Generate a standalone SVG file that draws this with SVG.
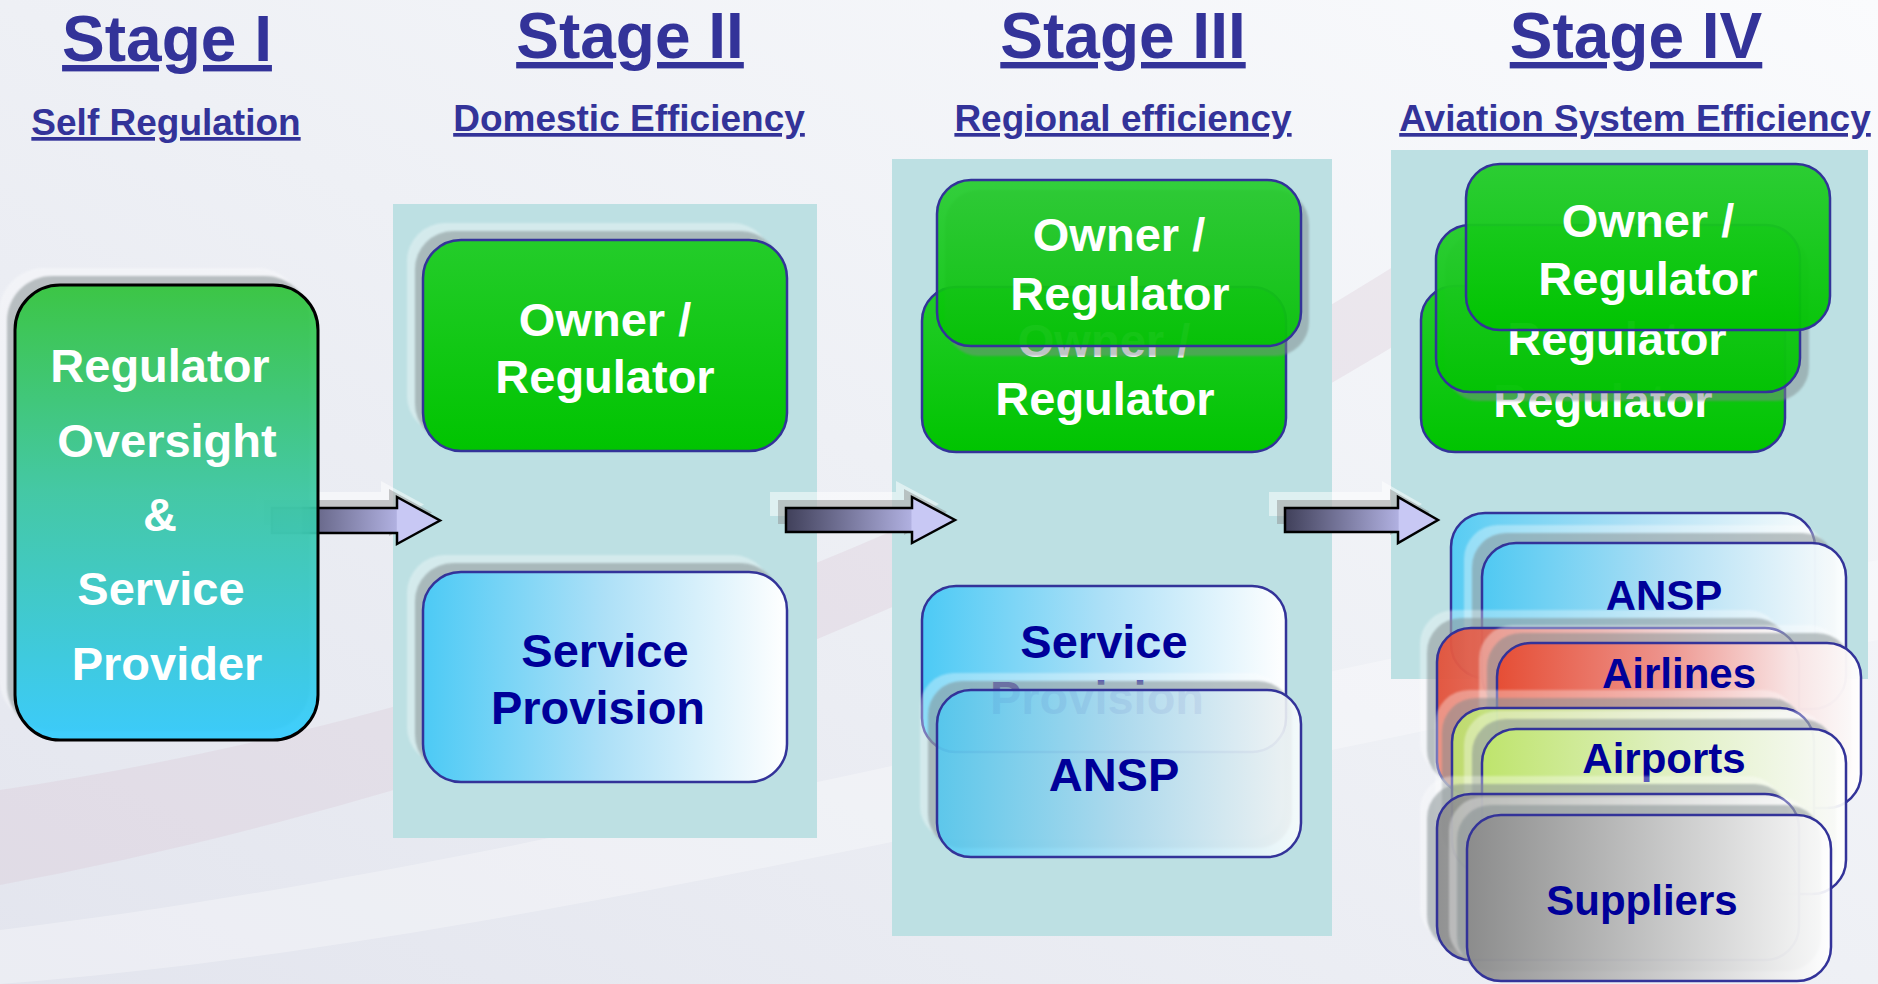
<svg xmlns="http://www.w3.org/2000/svg" xmlns:xlink="http://www.w3.org/1999/xlink" width="1878" height="984" viewBox="0 0 1878 984">
<defs>
  <linearGradient id="bg" x1="0" y1="1" x2="1" y2="0">
    <stop offset="0" stop-color="#e3e5ee"/>
    <stop offset="0.5" stop-color="#eef0f5"/>
    <stop offset="1" stop-color="#fafbfd"/>
  </linearGradient>
  <linearGradient id="gStage1" x1="0" y1="0" x2="0" y2="1">
    <stop offset="0" stop-color="#33c63c"/>
    <stop offset="0.45" stop-color="#3cc9a2"/>
    <stop offset="1" stop-color="#33ccff"/>
  </linearGradient>
  <linearGradient id="gGreen" x1="0" y1="0" x2="0" y2="1">
    <stop offset="0" stop-color="#24cc2a"/>
    <stop offset="1" stop-color="#00c400"/>
  </linearGradient>
  <linearGradient id="gBlue" x1="0" y1="0" x2="1" y2="0">
    <stop offset="0" stop-color="#4ccaf5"/>
    <stop offset="0.5" stop-color="#ade0f7"/>
    <stop offset="1" stop-color="#ffffff"/>
  </linearGradient>
  <linearGradient id="gRed" x1="0" y1="0" x2="1" y2="0">
    <stop offset="0" stop-color="#e84a30"/>
    <stop offset="0.45" stop-color="#f09088"/>
    <stop offset="0.8" stop-color="#fbe4e4"/>
    <stop offset="1" stop-color="#ffffff"/>
  </linearGradient>
  <linearGradient id="gLime" x1="0" y1="0" x2="1" y2="0">
    <stop offset="0" stop-color="#c0e868"/>
    <stop offset="0.5" stop-color="#e2f4c0"/>
    <stop offset="1" stop-color="#ffffff"/>
  </linearGradient>
  <linearGradient id="gGray" x1="0" y1="0" x2="1" y2="0">
    <stop offset="0" stop-color="#8a8a8a"/>
    <stop offset="0.5" stop-color="#c4c4c4"/>
    <stop offset="1" stop-color="#ffffff"/>
  </linearGradient>
  <linearGradient id="gArrow" x1="0" y1="0" x2="1" y2="0">
    <stop offset="0" stop-color="#40405a"/>
    <stop offset="0.74" stop-color="#b0b0e0"/>
    <stop offset="0.745" stop-color="#c8c8f4"/>
    <stop offset="1" stop-color="#c8c8f4"/>
  </linearGradient>
  <filter id="sb" x="-10%" y="-10%" width="120%" height="120%">
    <feGaussianBlur stdDeviation="0.8"/>
  </filter>
  <path id="arrow1" d="M272,508 H397 V497 L440,520.5 L397,544 V533 H272 Z"/>
  <path id="arrow2" d="M786,508 H912 V497 L955,520 L912,543 V532 H786 Z"/>
  <path id="arrow3" d="M1285,508 H1398 V497 L1438,520 L1398,543 V532 H1285 Z"/>
</defs>
<style>
  .title{font-family:"Liberation Sans",Arial,Helvetica,sans-serif;font-weight:bold;fill:#333399;text-decoration:underline;text-anchor:middle}
  .t1{font-size:64px}
  .t2{font-size:37px}
  .lbl{font-family:"Liberation Sans",Arial,Helvetica,sans-serif;font-weight:bold;font-size:47px;text-anchor:middle}
  .sm{font-size:42px}
  .w{fill:#ffffff}
  .n{fill:#000099}
  .panel{fill:#bde0e3}
  .bx{stroke:#333399;stroke-width:2.5}
  .green{fill:url(#gGreen)}
  .blue{fill:url(#gBlue)}
  .red{fill:url(#gRed)}
  .lime{fill:url(#gLime)}
  .gray{fill:url(#gGray)}
  .sh{fill:#7f8a8c;opacity:0.5;filter:url(#sb)}
  .halo{fill:#ffffff;opacity:0.35;filter:url(#sb)}
  .arrow{fill:url(#gArrow);stroke:#000000;stroke-width:2.5;stroke-linejoin:miter}
  .ash{fill:#8a8a8a;opacity:0.45}
  .ahalo{fill:#ffffff;opacity:0.5}
</style>

<!-- background -->
<rect x="0" y="0" width="1878" height="984" fill="url(#bg)"/>
<path d="M0,790 C400,730 900,580 1420,250 L1420,330 C900,650 400,810 0,885 Z" fill="#d8c2cf" opacity="0.28"/>
<path d="M0,930 C500,870 1000,730 1878,560 L1878,640 C1000,810 500,945 0,984 Z" fill="#ffffff" opacity="0.3"/>

<!-- titles -->
<g id="titles">
  <text class="title t1" x="167" y="61">Stage I</text>
  <text class="title t2" x="166" y="135">Self Regulation</text>
  <text class="title t1" x="630" y="58">Stage II</text>
  <text class="title t2" x="629" y="131">Domestic Efficiency</text>
  <text class="title t1" x="1123" y="58">Stage III</text>
  <text class="title t2" x="1123" y="131">Regional efficiency</text>
  <text class="title t1" x="1636" y="58">Stage IV</text>
  <text class="title t2" x="1635" y="131">Aviation System Efficiency</text>
</g>

<!-- stage panels -->
<g id="panel-stage2"><rect class="panel" x="393" y="204" width="424" height="634"/></g>
<g id="panel-stage3"><rect class="panel" x="892" y="159" width="440" height="777"/></g>
<g id="panel-stage4"><rect class="panel" x="1391" y="150" width="477" height="529"/></g>

<!-- connectors -->
<g id="connectors">
  <use xlink:href="#arrow1" class="ahalo" transform="translate(-16,-16)"/>
  <use xlink:href="#arrow1" class="ash" transform="translate(-8,-8)"/>
  <use xlink:href="#arrow1" class="arrow"/>
  <use xlink:href="#arrow2" class="ahalo" transform="translate(-16,-16)"/>
  <use xlink:href="#arrow2" class="ash" transform="translate(-8,-8)"/>
  <use xlink:href="#arrow2" class="arrow"/>
  <use xlink:href="#arrow3" class="ahalo" transform="translate(-16,-16)"/>
  <use xlink:href="#arrow3" class="ash" transform="translate(-8,-8)"/>
  <use xlink:href="#arrow3" class="arrow"/>
</g>

<!-- Stage I -->
<g id="stage1-box">
  <rect class="halo" x="-1" y="268" width="303" height="455" rx="45"/>
  <rect class="sh" x="7" y="276" width="303" height="455" rx="45"/>
  <rect x="15" y="285" width="303" height="455" rx="45" fill="url(#gStage1)" fill-opacity="0.93" stroke="#000000" stroke-width="3"/>
  <text class="lbl w" x="160" y="382">Regulator</text>
  <text class="lbl w" x="167" y="457">Oversight</text>
  <text class="lbl w" x="160" y="531">&amp;</text>
  <text class="lbl w" x="161" y="605">Service</text>
  <text class="lbl w" x="167" y="680">Provider</text>
</g>

<!-- Stage II -->
<g id="stage2-owner">
  <rect class="halo" x="407" y="223" width="364" height="211" rx="38"/>
  <rect class="sh" x="415" y="231" width="364" height="211" rx="38"/>
  <rect class="bx green" x="423" y="240" width="364" height="211" rx="38"/>
  <text class="lbl w" x="605" y="336">Owner /</text>
  <text class="lbl w" x="605" y="393">Regulator</text>
</g>
<g id="stage2-service">
  <rect class="halo" x="407" y="555" width="364" height="210" rx="38"/>
  <rect class="sh" x="415" y="563" width="364" height="210" rx="38"/>
  <rect class="bx blue" x="423" y="572" width="364" height="210" rx="38"/>
  <text class="lbl n" x="605" y="667">Service</text>
  <text class="lbl n" x="598" y="724">Provision</text>
</g>

<!-- Stage III -->
<g id="stage3-owner-back">
  <rect class="bx green" x="922" y="287" width="364" height="165" rx="34"/>
  <text class="lbl w" x="1104" y="357">Owner /</text>
  <text class="lbl w" x="1105" y="415">Regulator</text>
</g>
<g id="stage3-owner-front">
  <rect class="sh" x="945" y="190" width="364" height="166" rx="34"/>
  <rect class="bx green" x="937" y="180" width="364" height="166" rx="34" fill-opacity="0.9"/>
  <text class="lbl w" x="1119" y="251">Owner /</text>
  <text class="lbl w" x="1120" y="310">Regulator</text>
</g>
<g id="stage3-service">
  <rect class="bx blue" x="922" y="586" width="364" height="166" rx="34"/>
  <text class="lbl n" x="1104" y="658">Service</text>
  <text class="lbl n" x="1097" y="714">Provision</text>
</g>
<g id="stage3-ansp">
  <rect class="halo" x="920" y="673" width="364" height="167" rx="34"/>
  <rect class="sh" x="928" y="681" width="364" height="167" rx="34"/>
  <rect class="bx blue" x="937" y="690" width="364" height="167" rx="34" fill-opacity="0.82"/>
  <text class="lbl n" x="1114" y="791">ANSP</text>
</g>

<!-- Stage IV owner stack -->
<g id="stage4-owner-back">
  <rect class="bx green" x="1421" y="286" width="364" height="166" rx="34"/>
  <text class="lbl w" x="1603" y="417">Regulator</text>
</g>
<g id="stage4-owner-middle">
  <rect class="sh" x="1445" y="234" width="364" height="167" rx="34"/>
  <rect class="bx green" x="1436" y="225" width="364" height="167" rx="34" fill-opacity="0.95"/>
  <text class="lbl w" x="1617" y="355">Regulator</text>
</g>
<g id="stage4-owner-front">
  <rect class="bx green" x="1466" y="164" width="364" height="166" rx="34" fill-opacity="0.95"/>
  <text class="lbl w" x="1648" y="237">Owner /</text>
  <text class="lbl w" x="1648" y="295">Regulator</text>
</g>

<!-- Stage IV lower stack -->
<g id="stage4-ansp-back">
  <rect class="bx blue" x="1451" y="513" width="364" height="165" rx="34" fill-opacity="0.9"/>
</g>
<g id="stage4-ansp-front">
  <rect class="halo" x="1464" y="525" width="364" height="166" rx="34"/>
  <rect class="sh" x="1472" y="533" width="364" height="166" rx="34"/>
  <rect class="bx blue" x="1482" y="543" width="364" height="166" rx="34" fill-opacity="0.95"/>
  <text class="lbl n sm" x="1664" y="610">ANSP</text>
</g>
<g id="stage4-airlines-back">
  <rect class="halo" x="1420" y="610" width="362" height="166" rx="34"/>
  <rect class="sh" x="1427" y="618" width="362" height="166" rx="34"/>
  <rect class="bx red" x="1437" y="628" width="362" height="166" rx="34" fill-opacity="0.88"/>
</g>
<g id="stage4-airlines-front">
  <rect class="halo" x="1479" y="625" width="364" height="165" rx="34"/>
  <rect class="sh" x="1487" y="633" width="364" height="165" rx="34"/>
  <rect class="bx red" x="1497" y="643" width="364" height="165" rx="34" fill-opacity="0.95"/>
  <text class="lbl n sm" x="1679" y="688">Airlines</text>
</g>
<g id="stage4-airports-back">
  <rect class="halo" x="1435" y="690" width="362" height="166" rx="34"/>
  <rect class="sh" x="1442" y="698" width="362" height="166" rx="34"/>
  <rect class="bx lime" x="1452" y="708" width="362" height="166" rx="34" fill-opacity="0.85"/>
</g>
<g id="stage4-airports-front">
  <rect class="halo" x="1464" y="711" width="364" height="165" rx="34"/>
  <rect class="sh" x="1472" y="719" width="364" height="165" rx="34"/>
  <rect class="bx lime" x="1482" y="729" width="364" height="165" rx="34" fill-opacity="0.92"/>
  <text class="lbl n sm" x="1664" y="773">Airports</text>
</g>
<g id="stage4-suppliers-back">
  <rect class="halo" x="1420" y="776" width="362" height="166" rx="34"/>
  <rect class="sh" x="1427" y="784" width="362" height="166" rx="34"/>
  <rect class="bx gray" x="1437" y="794" width="362" height="166" rx="34" fill-opacity="0.85"/>
</g>
<g id="stage4-suppliers-front">
  <rect class="halo" x="1449" y="797" width="364" height="166" rx="34"/>
  <rect class="sh" x="1457" y="805" width="364" height="166" rx="34"/>
  <rect class="bx gray" x="1467" y="815" width="364" height="166" rx="34" fill-opacity="0.92"/>
  <text class="lbl n sm" x="1642" y="915">Suppliers</text>
</g>
</svg>
